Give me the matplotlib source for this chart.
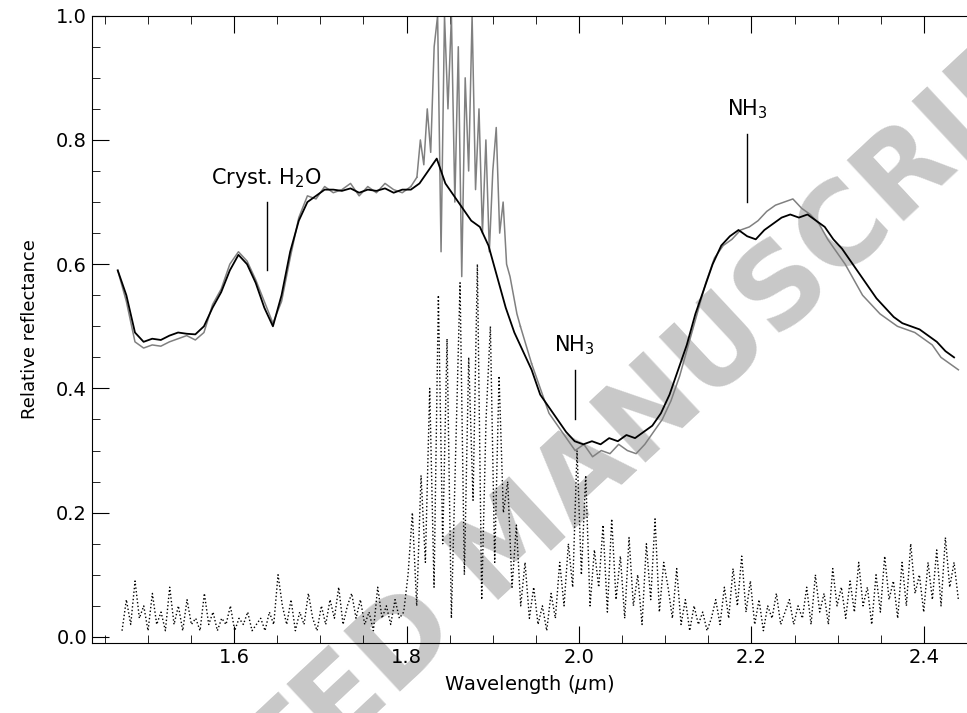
import numpy as np
import matplotlib
matplotlib.use("Agg")
import matplotlib.pyplot as plt

# smooth (black) spectrum
black_y = [0.59, 0.55, 0.49, 0.475, 0.48, 0.478, 0.485, 0.49, 0.488, 0.487,
           0.50, 0.53, 0.555, 0.59, 0.615, 0.60, 0.57, 0.53, 0.50, 0.55,
           0.62, 0.67, 0.70, 0.71, 0.72, 0.72, 0.718, 0.722, 0.715, 0.72,
           0.718, 0.722, 0.715, 0.72, 0.72, 0.73, 0.75, 0.77, 0.73, 0.71,
           0.69, 0.67, 0.66, 0.63, 0.58, 0.53, 0.49, 0.46, 0.43, 0.39,
           0.37, 0.35, 0.33, 0.315, 0.31, 0.315, 0.31, 0.32, 0.315, 0.325,
           0.32, 0.33, 0.34, 0.36, 0.39, 0.43, 0.47, 0.52, 0.56, 0.60,
           0.63, 0.645, 0.655, 0.645, 0.64, 0.655, 0.665, 0.675, 0.68, 0.675,
           0.68, 0.67, 0.66, 0.64, 0.625, 0.605, 0.585, 0.565, 0.545, 0.53,
           0.515, 0.505, 0.50, 0.495, 0.485, 0.475, 0.46, 0.45]
black_x = np.linspace(1.465, 2.435, len(black_y))

# noisier (gray) spectrum
gray_x1 = [1.465, 1.475, 1.485, 1.495, 1.505, 1.515, 1.525, 1.535, 1.545, 1.555,
           1.565, 1.575, 1.585, 1.595, 1.605, 1.615, 1.625, 1.635, 1.645, 1.655,
           1.665, 1.675, 1.685, 1.695, 1.705, 1.715, 1.725, 1.735, 1.745, 1.755,
           1.765, 1.775, 1.785, 1.795, 1.805]
gray_y1 = [0.59, 0.54, 0.475, 0.465, 0.47, 0.468, 0.475, 0.48, 0.485, 0.478,
           0.49, 0.535, 0.56, 0.60, 0.62, 0.605, 0.575, 0.54, 0.505, 0.54,
           0.61, 0.675, 0.71, 0.705, 0.725, 0.715, 0.72, 0.73, 0.71, 0.725,
           0.715, 0.73, 0.72, 0.715, 0.725]
gray_y2 = [0.74, 0.80, 0.76, 0.85, 0.78, 0.95, 1.0, 0.62, 1.0, 0.85,
           1.0, 0.70, 0.95, 0.58, 0.90, 0.75, 1.0, 0.72, 0.85, 0.65,
           0.80, 0.62, 0.75, 0.82, 0.65, 0.70, 0.60, 0.58, 0.55, 0.52, 0.50]
gray_x2 = np.linspace(1.812, 1.932, len(gray_y2))
gray_y3 = [0.44, 0.40, 0.36, 0.34, 0.32, 0.30, 0.31, 0.29, 0.30, 0.295,
           0.31, 0.30, 0.295, 0.31, 0.33, 0.35, 0.38, 0.42, 0.47, 0.52,
           0.57, 0.61, 0.63, 0.64, 0.655, 0.66, 0.67, 0.685, 0.695, 0.70,
           0.705, 0.69, 0.68, 0.665, 0.64, 0.62, 0.60, 0.575, 0.55, 0.535,
           0.52, 0.51, 0.50, 0.495, 0.49, 0.48, 0.47, 0.45, 0.44, 0.43]
gray_x3 = np.linspace(1.945, 2.44, len(gray_y3))

# dotted residual
dot_y = [0.01, 0.06, 0.02, 0.09, 0.03, 0.05, 0.01, 0.07, 0.02, 0.04, 0.01, 0.08, 0.02, 0.05,
         0.01, 0.06, 0.02, 0.03, 0.01, 0.07, 0.02, 0.04, 0.01, 0.03, 0.02, 0.05, 0.01, 0.03,
         0.02, 0.04, 0.01, 0.02, 0.03, 0.01, 0.04, 0.02, 0.10, 0.05, 0.02, 0.06, 0.01, 0.04,
         0.02, 0.07, 0.03, 0.01, 0.05, 0.02, 0.06, 0.03, 0.08, 0.02, 0.05, 0.07, 0.03, 0.06,
         0.02, 0.04, 0.01, 0.08, 0.03, 0.05, 0.02, 0.06, 0.03, 0.04,
         0.10, 0.20, 0.05, 0.26, 0.12, 0.40, 0.08, 0.55, 0.15, 0.48, 0.03, 0.30, 0.57, 0.10,
         0.45, 0.22, 0.60, 0.06, 0.35, 0.50, 0.12, 0.42, 0.20, 0.25, 0.08, 0.18, 0.05, 0.12,
         0.03, 0.08,
         0.02, 0.05, 0.01, 0.07, 0.03, 0.12, 0.05, 0.15, 0.08, 0.30, 0.10, 0.26, 0.05, 0.14,
         0.08, 0.18, 0.04, 0.19, 0.06, 0.13, 0.03, 0.16, 0.05, 0.10, 0.02, 0.15, 0.06, 0.19,
         0.04, 0.12, 0.08, 0.03, 0.11, 0.02, 0.06, 0.01, 0.05, 0.02, 0.04, 0.01, 0.03, 0.06,
         0.02, 0.08, 0.03, 0.11, 0.05, 0.13, 0.04, 0.09, 0.02, 0.06, 0.01, 0.05, 0.03, 0.07,
         0.02, 0.04, 0.06, 0.02, 0.05, 0.03, 0.08, 0.02, 0.10, 0.04, 0.07, 0.02, 0.11, 0.05,
         0.08, 0.03, 0.09, 0.04, 0.12, 0.05, 0.08, 0.02, 0.10, 0.04, 0.13, 0.06, 0.09, 0.03,
         0.12, 0.05, 0.15, 0.07, 0.10, 0.04, 0.12, 0.06, 0.14, 0.05, 0.16, 0.08, 0.12, 0.06]
dot_x = np.linspace(1.47, 2.44, len(dot_y))

# feature marks: (x, line bottom, line top, label)
marks = [(1.638, 0.59, 0.70, r"Cryst. H$_2$O"),
         (1.995, 0.35, 0.43, r"NH$_3$"),
         (2.195, 0.70, 0.81, r"NH$_3$")]

fig = plt.figure(figsize=(9.67, 7.13), dpi=100)
ax = fig.add_axes([0.095, 0.098, 0.905, 0.880])

# watermark behind the data
ax.text(0.49, 0.17, "ACCEPTED MANUSCRIPT", transform=ax.transAxes, rotation=43,
        ha="center", va="center", fontsize=82, fontweight="bold",
        color="#c8c8c8", zorder=0)

ax.plot(gray_x1, gray_y1, color="#808080", lw=1.1)
ax.plot(gray_x2, gray_y2, color="#808080", lw=1.1)
ax.plot(gray_x3, gray_y3, color="#808080", lw=1.1)
ax.plot([gray_x1[-1], gray_x2[0]], [gray_y1[-1], gray_y2[0]], color="#808080", lw=1.1)
ax.plot([gray_x2[-1], gray_x3[0]], [gray_y2[-1], gray_y3[0]], color="#808080", lw=1.1)
ax.plot(black_x, black_y, color="black", lw=1.3)
ax.plot(dot_x, dot_y, color="black", lw=1.0, ls=":")

for x, y0, y1, lab in marks:
    ax.plot([x, x], [y0, y1], color="black", lw=1.0)
    ax.text(x, y1 + 0.02, lab, ha="center", va="bottom", fontsize=15, zorder=6)

ax.set_xlim(1.435, 2.44)
ax.set_ylim(-0.01, 1.0)
ax.set_xticks([1.6, 1.8, 2.0, 2.2, 2.4])
ax.set_yticks([0.0, 0.2, 0.4, 0.6, 0.8, 1.0])
ax.set_xticks(np.arange(1.45, 2.45, 0.05), minor=True)
ax.set_yticks(np.arange(0.0, 1.0, 0.05), minor=True)
ax.set_yticklabels(["0.0", "0.2", "0.4", "0.6", "0.8", "1.0"])
ax.tick_params(which="both", direction="in", top=True, right=False, labelsize=14)
ax.tick_params(which="major", length=12)
ax.tick_params(which="minor", length=6)
ax.spines["right"].set_visible(False)
ax.set_xlabel(r"Wavelength ($\mu$m)", fontsize=14, labelpad=4)
ax.set_ylabel("Relative reflectance", fontsize=13, labelpad=12)

fig.savefig("out.png", dpi=100)
